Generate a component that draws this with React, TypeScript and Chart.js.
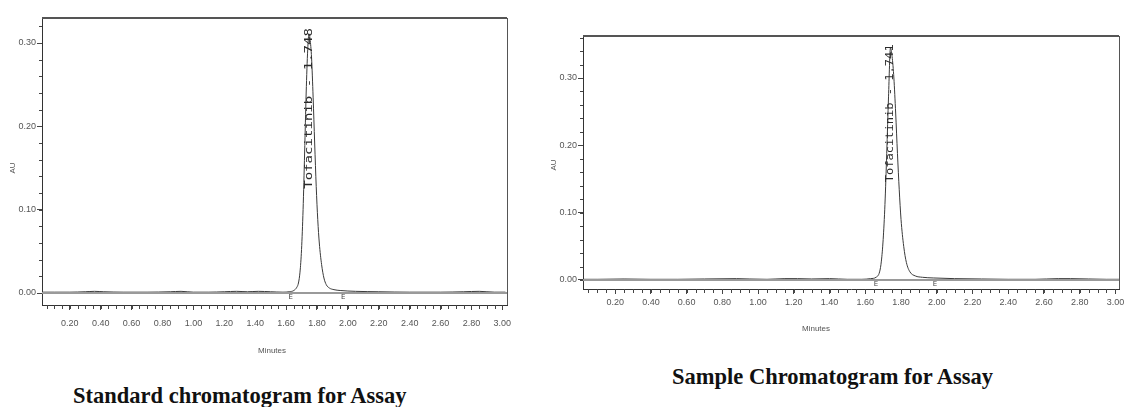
import React, { useEffect, useRef } from 'react';
import { Chart, registerables } from 'chart.js';

Chart.register(...registerables);

// ---- tick labels ----
const xTickLabels = ['0.20', '0.40', '0.60', '0.80', '1.00', '1.20', '1.40', '1.60', '1.80', '2.00', '2.20', '2.40', '2.60', '2.80', '3.00'];
const yTickLabels = ['0.00', '0.10', '0.20', '0.30'];

// ---- standard chromatogram (minutes, AU) ----
const stdTime = [0.02, 0.10, 0.20, 0.30, 0.36, 0.42, 0.55, 0.70, 0.85, 0.92, 1.00, 1.10, 1.20, 1.28, 1.35, 1.42, 1.50, 1.58, 1.62, 1.65, 1.67, 1.68, 1.69, 1.70, 1.71, 1.72, 1.73, 1.74, 1.748, 1.755, 1.765, 1.775, 1.785, 1.795, 1.805, 1.815, 1.83, 1.845, 1.86, 1.88, 1.91, 1.95, 2.05, 2.20, 2.40, 2.60, 2.75, 2.85, 2.95, 3.02];
const stdAU = [0.001, 0.001, 0.001, 0.0015, 0.002, 0.0015, 0.001, 0.001, 0.0015, 0.002, 0.001, 0.001, 0.0015, 0.002, 0.0015, 0.002, 0.0015, 0.001, 0.0015, 0.003, 0.007, 0.012, 0.025, 0.052, 0.100, 0.168, 0.240, 0.292, 0.311, 0.305, 0.282, 0.235, 0.180, 0.128, 0.088, 0.060, 0.034, 0.018, 0.010, 0.006, 0.004, 0.003, 0.002, 0.0015, 0.001, 0.001, 0.0015, 0.002, 0.001, 0.001];
const stdPeakTime = 1.748;
const stdPeakLabel = 'Tofacitinib - 1.748';
const stdMarkers = [1.63, 1.97];

// ---- sample chromatogram (minutes, AU) ----
const smpTime = [0.02, 0.10, 0.25, 0.40, 0.55, 0.70, 0.88, 0.95, 1.05, 1.15, 1.22, 1.30, 1.40, 1.50, 1.58, 1.63, 1.66, 1.68, 1.69, 1.70, 1.71, 1.72, 1.73, 1.741, 1.75, 1.76, 1.77, 1.78, 1.79, 1.80, 1.815, 1.83, 1.85, 1.88, 1.92, 1.98, 2.10, 2.25, 2.40, 2.55, 2.68, 2.75, 2.85, 2.95, 3.02];
const smpAU = [0.001, 0.001, 0.0015, 0.001, 0.001, 0.0015, 0.002, 0.0015, 0.001, 0.002, 0.002, 0.0015, 0.002, 0.001, 0.001, 0.002, 0.004, 0.012, 0.028, 0.060, 0.112, 0.188, 0.272, 0.345, 0.332, 0.300, 0.248, 0.188, 0.134, 0.090, 0.050, 0.026, 0.012, 0.006, 0.004, 0.003, 0.002, 0.0015, 0.001, 0.001, 0.002, 0.002, 0.0015, 0.001, 0.001];
const smpPeakTime = 1.741;
const smpPeakLabel = 'Tofacitinib - 1.741';
const smpMarkers = [1.66, 1.99];

const xTitle = 'Minutes';
const yTitle = 'AU';

const TICK_FONT = '"Liberation Sans Narrow", "Liberation Sans", Arial, sans-serif';

type PanelCfg = {
  left: number; top: number; w: number; h: number;
  padTop: number; padRight: number; yAxisW: number; xAxisH: number;
  xMin: number; xMax: number; yMin: number; yMax: number;
  time: number[]; au: number[];
  peakTime: number; peakLabel: string; labelFrom: number; labelTo: number;
  markers: number[]; tickPad: number;
};

function Panel({ cfg }: { cfg: PanelCfg }) {
  const ref = useRef<HTMLCanvasElement>(null);
  useEffect(() => {
    const canvas = ref.current!;
    const decor = {
      id: 'decor',
      afterDraw(chart: any) {
        const { ctx, chartArea: a } = chart;
        const xs = chart.scales.x, ys = chart.scales.y;
        ctx.save();
        // frame top/right
        ctx.strokeStyle = '#555';
        ctx.lineWidth = 2;
        ctx.beginPath(); ctx.moveTo(a.left, a.top); ctx.lineTo(a.right, a.top); ctx.stroke();
        ctx.lineWidth = 1;
        ctx.beginPath(); ctx.moveTo(a.right + 0.5, a.top); ctx.lineTo(a.right + 0.5, a.bottom); ctx.stroke();
        // minor ticks
        ctx.strokeStyle = '#444';
        ctx.beginPath();
        for (let i = 1; i <= 60; i++) {
          const v = i * 0.05;
          const px = Math.round(xs.getPixelForValue(v)) + 0.5;
          if (px < a.left || px > a.right + 1) continue;
          ctx.moveTo(px, a.bottom); ctx.lineTo(px, a.bottom + 4);
        }
        for (let i = -1; i <= 18; i++) {
          const v = i * 0.02;
          const py = Math.round(ys.getPixelForValue(v)) + 0.5;
          if (py < a.top || py > a.bottom) continue;
          ctx.moveTo(a.left, py); ctx.lineTo(a.left - 3, py);
        }
        ctx.stroke();
        // integration markers
        ctx.fillStyle = '#444';
        ctx.font = '7px "DejaVu Sans", sans-serif';
        ctx.textAlign = 'center';
        ctx.textBaseline = 'top';
        const y0 = ys.getPixelForValue(0);
        cfg.markers.forEach((m) => {
          ctx.fillText('E', xs.getPixelForValue(m), y0 + 1);
        });
        // peak label
        const px = xs.getPixelForValue(cfg.peakTime);
        const yA = ys.getPixelForValue(cfg.labelFrom);
        const yB = ys.getPixelForValue(cfg.labelTo);
        ctx.translate(px, yA);
        ctx.rotate(-Math.PI / 2);
        ctx.font = '10px "DejaVu Sans Mono", monospace';
        const w = ctx.measureText(cfg.peakLabel).width;
        ctx.scale((yA - yB) / w, 1);
        ctx.textAlign = 'left';
        ctx.textBaseline = 'middle';
        ctx.fillStyle = '#2a2a2a';
        ctx.fillText(cfg.peakLabel, 0, 0);
        ctx.restore();
      },
    };
    const chart = new Chart(canvas, {
      type: 'line',
      data: {
        datasets: [
          {
            data: [{ x: cfg.xMin, y: 0 }, { x: cfg.xMax, y: 0 }],
            borderColor: '#9a9a9a', borderWidth: 2, pointRadius: 0, tension: 0,
          },
          {
            data: cfg.time.map((t, i) => ({ x: t, y: cfg.au[i] })),
            borderColor: '#3a3a3a', borderWidth: 1, pointRadius: 0,
            cubicInterpolationMode: 'monotone',
          },
        ],
      },
      options: {
        animation: false,
        responsive: false,
        devicePixelRatio: 1,
        events: [],
        layout: { padding: { top: cfg.padTop, right: cfg.padRight, left: 0, bottom: 0 } },
        plugins: { legend: { display: false }, tooltip: { enabled: false }, title: { display: false } },
        scales: {
          x: {
            type: 'linear', min: cfg.xMin, max: cfg.xMax,
            afterBuildTicks: (s: any) => { s.ticks = xTickLabels.map((l) => ({ value: Number(l) })); },
            afterFit: (s: any) => { s.height = cfg.xAxisH; },
            ticks: {
              callback: (v: any) => Number(v).toFixed(2),
              font: { family: TICK_FONT, size: 9 }, color: '#555', maxRotation: 0, autoSkip: false, padding: cfg.tickPad,
            },
            grid: { display: true, drawOnChartArea: false, drawTicks: true, tickLength: 5, color: '#444' },
            border: { display: true, color: '#333', width: 1 },
          },
          y: {
            type: 'linear', min: cfg.yMin, max: cfg.yMax,
            afterBuildTicks: (s: any) => { s.ticks = yTickLabels.map((l) => ({ value: Number(l) })); },
            afterFit: (s: any) => { s.width = cfg.yAxisW; },
            ticks: {
              callback: (v: any) => Number(v).toFixed(2),
              font: { family: TICK_FONT, size: 9 }, color: '#555', padding: 1,
            },
            grid: { display: true, drawOnChartArea: false, drawTicks: true, tickLength: 5, color: '#444' },
            border: { display: true, color: '#333', width: 1 },
          },
        },
      },
      plugins: [decor],
    } as any);
    return () => chart.destroy();
  }, []);
  return (
    <canvas
      ref={ref}
      width={cfg.w}
      height={cfg.h}
      style={{ position: 'absolute', left: cfg.left, top: cfg.top, width: cfg.w, height: cfg.h }}
    />
  );
}

const stdCfg: PanelCfg = {
  left: 0, top: 0, w: 520, h: 360,
  padTop: 18, padRight: 13, yAxisW: 42, xAxisH: 55,
  xMin: 0.02, xMax: 3.03, yMin: -0.0144, yMax: 0.33,
  time: stdTime, au: stdAU,
  peakTime: stdPeakTime, peakLabel: stdPeakLabel, labelFrom: 0.125, labelTo: 0.318,
  markers: stdMarkers, tickPad: 8,
};

const smpCfg: PanelCfg = {
  left: 540, top: 20, w: 591, h: 330,
  padTop: 16, padRight: 12, yAxisW: 43, xAxisH: 61,
  xMin: 0.02, xMax: 3.02, yMin: -0.0134, yMax: 0.3624,
  time: smpTime, au: smpAU,
  peakTime: smpPeakTime, peakLabel: smpPeakLabel, labelFrom: 0.145, labelTo: 0.35,
  markers: smpMarkers, tickPad: 3,
};

const small: React.CSSProperties = {
  position: 'absolute', fontFamily: TICK_FONT, fontSize: 8, color: '#555', whiteSpace: 'nowrap',
};
const caption: React.CSSProperties = {
  position: 'absolute', fontFamily: '"Liberation Serif", "Times New Roman", serif', fontWeight: 'bold',
  color: '#111', whiteSpace: 'nowrap', lineHeight: 1,
};

export default function App() {
  return (
    <div style={{ position: 'absolute', left: 0, top: 0, width: 1131, height: 407, background: '#fff', overflow: 'hidden' }}>
      <Panel cfg={stdCfg} />
      <Panel cfg={smpCfg} />
      <div style={{ ...small, left: 12, top: 168, transform: 'translate(-50%, -50%) rotate(-90deg)' }}>{yTitle}</div>
      <div style={{ ...small, left: 272, top: 350, transform: 'translate(-50%, -50%)' }}>{xTitle}</div>
      <div style={{ ...small, left: 553, top: 165, transform: 'translate(-50%, -50%) rotate(-90deg)' }}>{yTitle}</div>
      <div style={{ ...small, left: 816, top: 328, transform: 'translate(-50%, -50%)' }}>{xTitle}</div>
      <div style={{ ...caption, left: 73, top: 385, fontSize: 22.5 }}>Standard chromatogram for Assay</div>
      <div style={{ ...caption, left: 672, top: 366, fontSize: 22.5 }}>Sample Chromatogram for Assay</div>
    </div>
  );
}
